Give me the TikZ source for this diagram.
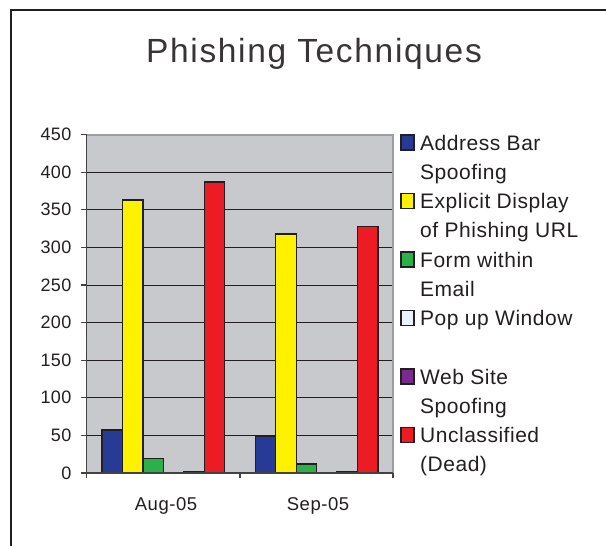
\documentclass[tikz,border=0pt]{standalone}
\usepackage{fontspec}
\setmainfont{Liberation Sans}
\definecolor{ink}{HTML}{231F20}
\definecolor{plotbg}{HTML}{C8C9CD}
\definecolor{plotedge}{HTML}{9D9EA2}
\definecolor{barblue}{HTML}{263A96}
\definecolor{baryellow}{HTML}{FFF200}
\definecolor{bargreen}{HTML}{2BB04A}
\definecolor{barwhite}{HTML}{EAF3FB}
\definecolor{barpurple}{HTML}{7A2A8C}
\definecolor{barred}{HTML}{ED1C24}
% value -> vertical position on the chart
\newcommand{\ypos}[1]{473-0.752*(#1)}
\begin{document}
\begin{tikzpicture}[x=1pt,y=-1pt,
  bar/.style={draw=ink,line width=1.4pt},
  keybox/.style={draw=ink,line width=1.3pt,minimum width=13pt,minimum height=15pt,inner sep=0pt},
  keytext/.style={anchor=base west,inner sep=0pt,text=ink,
    font=\fontsize{21}{29}\selectfont\addfontfeatures{LetterSpace=2.5}},
  ticklabel/.style={anchor=east,inner sep=0pt,text=ink,
    font=\fontsize{18}{20}\selectfont\addfontfeatures{LetterSpace=2}},
  catlabel/.style={anchor=base,inner sep=0pt,text=ink,
    font=\fontsize{18.5}{20}\selectfont\addfontfeatures{LetterSpace=3}},
  grid/.style={draw=ink,line width=0.8pt},
  axis/.style={draw=ink!85,line width=1.1pt}]
\useasboundingbox (0,0) rectangle (606,546);
\fill[white] (0,0) rectangle (606,546);

% outer chart frame
\draw[ink,line width=1.3pt] (11,560) -- (11,10) -- (620,10);

% title
\node[anchor=base,inner sep=0pt,text=ink!90,
  font=\fontsize{33.5}{36}\selectfont\addfontfeatures{LetterSpace=5}] (title) at (314,62.3) {Phishing Techniques};

% plot area and gridlines
\fill[plotbg] (86.7,134.6) rectangle (393,473);
\foreach \v in {50,100,...,400}
  \draw[grid] (86.7,{\ypos{\v}}) -- (393,{\ypos{\v}});
\draw[plotedge,line width=2pt] (86.7,134.6) -- (393,134.6) -- (393,473);

% bars: Aug-05 and Sep-05
\def\bw{20.44}
\foreach \cat/\vals in {0/{57,363,19,1,1.5,387},1/{49,318,12,1,1.5,328}}{
  \foreach \val [count=\i from 0] in \vals {
    \pgfmathsetmacro{\xl}{86.7+153.3*\cat+15.33+\bw*\i}
    \pgfmathsetmacro{\xr}{\xl+\bw}
    \ifcase\i \def\bc{barblue}\or\def\bc{baryellow}\or\def\bc{bargreen}\or\def\bc{barwhite}\or\def\bc{barpurple}\or\def\bc{barred}\fi
    \filldraw[bar,fill=\bc] (\xl,473) rectangle (\xr,{\ypos{\val}});
  }
}

% axes and ticks
\draw[axis] (86.7,134.6) -- (86.7,478);
\draw[axis] (81,473) -- (393,473);
\foreach \v in {50,100,...,450}
  \draw[axis] (81,{\ypos{\v}}) -- (86.7,{\ypos{\v}});
\foreach \x in {240,393}
  \draw[axis] (\x,473) -- (\x,478);

% value labels
\foreach \v in {0,50,...,450}
  \node[ticklabel] (y\v) at (71.5,{\ypos{\v}}) {\v};

% category labels
\node[catlabel] (aug) at (166,510) {Aug-05};
\node[catlabel] (sep) at (318,510) {Sep-05};

% legend
\foreach \n/\c/\la/\lb [count=\k from 0] in {
  a/barblue/Address Bar/Spoofing,
  b/baryellow/Explicit Display/of Phishing URL,
  c/bargreen/Form within/Email,
  d/barwhite/Pop up Window/,
  e/barpurple/Web Site/Spoofing,
  f/barred/Unclassified/(Dead)}{
  \pgfmathsetmacro{\ky}{142.5+58.5*\k}
  \node[keybox,fill=\c] (key\n) at (407.5,\ky) {};
  \node[keytext] (key\n1) at (420,\ky+7.5) {\la};
  \node[keytext] (key\n2) at (420,\ky+36.5) {\lb};
}
\end{tikzpicture}
\end{document}
